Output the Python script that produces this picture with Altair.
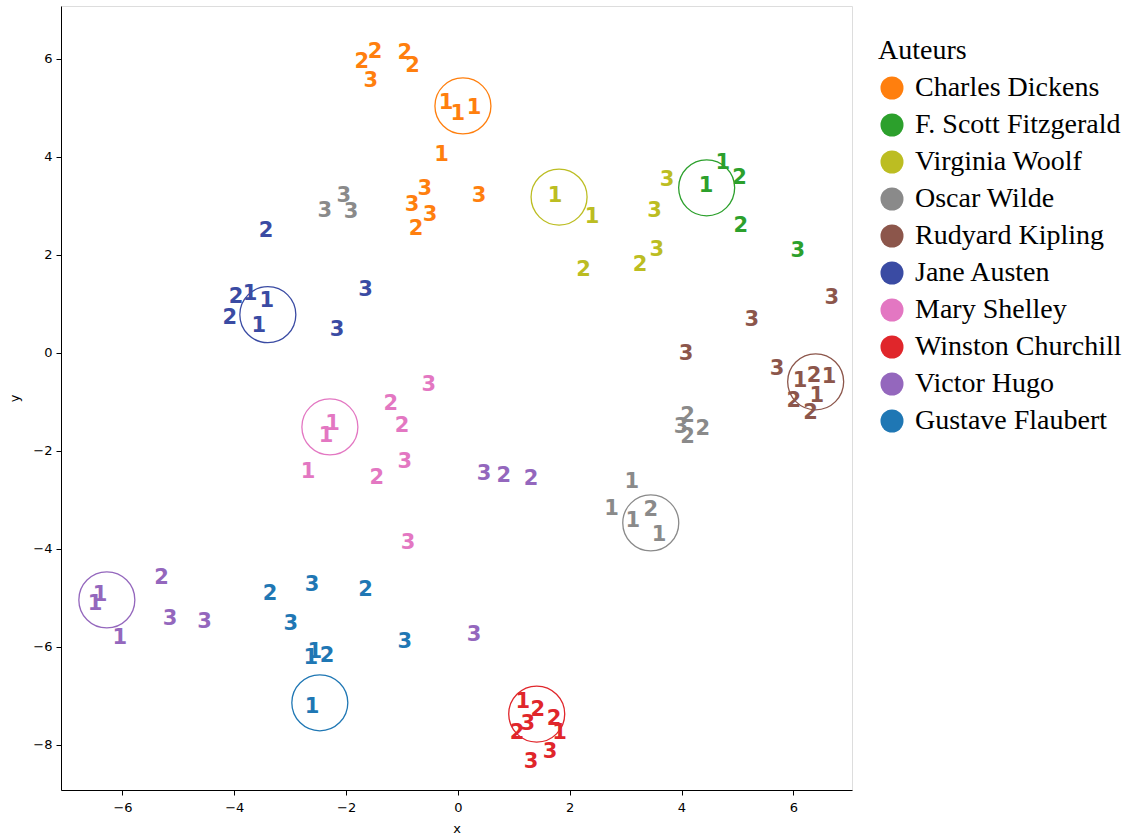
import altair as alt
import pandas as pd

authors = ["Charles Dickens", "F. Scott Fitzgerald", "Virginia Woolf", "Oscar Wilde",
           "Rudyard Kipling", "Jane Austen", "Mary Shelley", "Winston Churchill",
           "Victor Hugo", "Gustave Flaubert"]
colors = ["#ff7f0e", "#2ca02c", "#bcbd22", "#8a8a8a", "#8c564b",
          "#3a4ba3", "#e377c2", "#e0262b", "#9467bd", "#1f77b4"]

# points: (x, y, label) per author
dickens = [(-1.72, 5.94, "2"), (-1.48, 6.14, "2"), (-1.56, 5.55, "3"), (-0.95, 6.12, "2"),
           (-0.81, 5.86, "2"), (-0.21, 5.10, "1"), (0.0, 4.88, "1"), (0.29, 5.0, "1"),
           (-0.29, 4.04, "1"), (-0.59, 3.35, "3"), (-0.82, 3.02, "3"), (-0.50, 2.82, "3"),
           (-0.75, 2.53, "2"), (0.38, 3.20, "3")]
fitzgerald = [(4.44, 3.41, "1"), (4.74, 3.88, "1"), (5.04, 3.57, "2"), (5.06, 2.59, "2"),
              (6.08, 2.08, "3")]
woolf = [(1.74, 3.20, "1"), (2.40, 2.78, "1"), (2.25, 1.69, "2"), (3.74, 3.53, "3"),
         (3.52, 2.90, "3"), (3.26, 1.80, "2"), (3.56, 2.10, "3")]
wilde = [(-2.38, 2.90, "3"), (-2.04, 3.20, "3"), (-1.91, 2.88, "3"), (4.11, -1.29, "2"),
         (3.99, -1.51, "3"), (4.38, -1.55, "2"), (4.11, -1.71, "2"), (3.11, -2.63, "1"),
         (2.75, -3.18, "1"), (3.13, -3.43, "1"), (3.45, -3.20, "2"), (3.60, -3.71, "1")]
kipling = [(6.69, 1.12, "3"), (5.26, 0.67, "3"), (4.08, -0.02, "3"), (5.71, -0.33, "3"),
           (6.12, -0.57, "1"), (6.37, -0.47, "2"), (6.64, -0.49, "1"), (6.01, -0.98, "2"),
           (6.42, -0.88, "1"), (6.31, -1.22, "2")]
austen = [(-3.43, 2.49, "2"), (-1.65, 1.29, "3"), (-2.16, 0.47, "3"), (-3.97, 1.14, "2"),
          (-3.72, 1.20, "1"), (-3.42, 1.06, "1"), (-4.08, 0.71, "2"), (-3.56, 0.55, "1")]
shelley = [(-0.52, -0.65, "3"), (-1.20, -1.04, "2"), (-1.00, -1.49, "2"), (-2.24, -1.45, "1"),
           (-2.36, -1.69, "1"), (-2.68, -2.43, "1"), (-1.45, -2.55, "2"), (-0.95, -2.22, "3"),
           (-0.89, -3.88, "3")]
churchill = [(1.16, -7.12, "1"), (1.43, -7.29, "2"), (1.25, -7.57, "3"), (1.72, -7.47, "2"),
             (1.06, -7.76, "2"), (1.82, -7.76, "1"), (1.65, -8.14, "3"), (1.31, -8.35, "3")]
hugo = [(0.47, -2.47, "3"), (0.82, -2.51, "2"), (1.31, -2.57, "2"), (-6.40, -4.94, "1"),
        (-6.49, -5.12, "1"), (-6.05, -5.82, "1"), (-5.30, -4.59, "2"), (-5.15, -5.43, "3"),
        (-4.53, -5.49, "3"), (0.29, -5.76, "3")]
flaubert = [(-3.36, -4.92, "2"), (-2.61, -4.73, "3"), (-1.65, -4.84, "2"), (-2.99, -5.53, "3"),
            (-2.56, -6.10, "1"), (-2.63, -6.22, "1"), (-2.34, -6.18, "2"), (-0.95, -5.90, "3"),
            (-2.61, -7.22, "1")]

# circle centres (one per author)
circle_x = [0.09, 4.45, 1.81, 3.45, 6.40, -3.40, -2.29, 1.41, -6.28, -2.47]
circle_y = [5.04, 3.37, 3.18, -3.47, -0.59, 0.78, -1.51, -7.37, -5.04, -7.14]

x_ticks = [-6, -4, -2, 0, 2, 4, 6]
y_ticks = [-8, -6, -4, -2, 0, 2, 4, 6]

groups = [dickens, fitzgerald, woolf, wilde, kipling, austen, shelley, churchill, hugo, flaubert]
rows = []
for a, pts in zip(authors, groups):
    for (px, py, lab) in pts:
        rows.append({"Auteurs": a, "x": px, "y": py, "label": lab})
df = pd.DataFrame(rows)
dc = pd.DataFrame({"Auteurs": authors, "x": circle_x, "y": circle_y})

xs = alt.Scale(domain=[-7.1, 7.05], nice=False, zero=False)
ys = alt.Scale(domain=[-8.92, 7.08], nice=False, zero=False)
cs = alt.Scale(domain=authors, range=colors)

xax = alt.Axis(values=x_ticks, grid=False, tickSize=5, labelPadding=6, labelFontSize=13,
               labelFont="DejaVu Sans", titleFont="DejaVu Sans", titleFontSize=13,
               titleFontWeight="normal", titleBaseline="middle", titleY=38,
               domainColor="black", tickColor="black", labelColor="black")
yax = alt.Axis(values=y_ticks, grid=False, tickSize=5, labelPadding=4, labelFontSize=13,
               labelFont="DejaVu Sans", titleFont="DejaVu Sans", titleFontSize=13,
               titleFontWeight="normal", titleX=-47, titleY=392, titleBaseline="middle",
               domainColor="black", tickColor="black", labelColor="black")

legend = alt.Legend(
    orient="none", legendX=817, legendY=31, padding=0,
    title="Auteurs", titleFont="Liberation Serif", titleFontSize=28,
    titleFontWeight="normal", titleColor="black", titlePadding=9,
    labelFont="Liberation Serif", labelFontSize=28, labelColor="black",
    labelOffset=9, symbolType="circle", symbolSize=530, symbolStrokeWidth=0,
    symbolOpacity=1, rowPadding=9, labelLimit=400)

text = alt.Chart(df).mark_text(font="DejaVu Sans", fontSize=21, fontWeight="bold",
                               align="center", baseline="middle").encode(
    x=alt.X("x:Q", scale=xs, axis=xax, title="x"),
    y=alt.Y("y:Q", scale=ys, axis=yax, title="y"),
    text="label:N",
    color=alt.Color("Auteurs:N", scale=cs, legend=legend),
)

circles = alt.Chart(dc).mark_point(shape="circle", filled=False, size=3136,
                                   strokeWidth=1.3, opacity=1).encode(
    x=alt.X("x:Q", scale=xs),
    y=alt.Y("y:Q", scale=ys),
    color=alt.Color("Auteurs:N", scale=cs, legend=None),
)

chart = alt.layer(circles, text).resolve_legend(color="independent").properties(
    width=791, height=784,
    autosize=alt.AutoSizeParams(type="none"),
    padding={"left": 61, "top": 6, "right": 283, "bottom": 45},
).configure_view(stroke="black", strokeWidth=1.2).configure(background="white")

chart.save("out.html", embed_options={"renderer": "svg", "actions": False})
